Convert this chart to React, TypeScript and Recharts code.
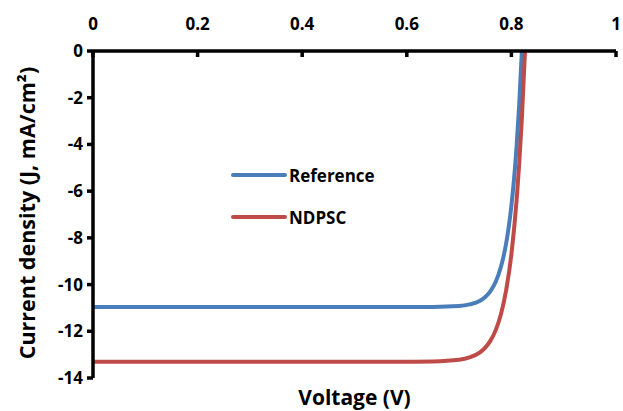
import { LineChart, Line, XAxis, YAxis, Legend, Label } from 'recharts'

// J-V sweep, voltage in V and current density in mA/cm²
const referenceVoltage = [0, 0.1, 0.2, 0.3, 0.4, 0.5, 0.6, 0.65, 0.7, 0.72, 0.74, 0.75, 0.76, 0.77, 0.78, 0.785, 0.79, 0.795, 0.8, 0.805, 0.81, 0.815, 0.82]
const referenceCurrent = [-10.96, -10.96, -10.96, -10.96, -10.96, -10.96, -10.958, -10.955, -10.92, -10.85, -10.69, -10.53, -10.28, -9.88, -9.24, -8.79, -8.23, -7.52, -6.62, -5.49, -4.06, -2.27, 0]

const ndpscVoltage = [0, 0.1, 0.2, 0.3, 0.4, 0.5, 0.6, 0.65, 0.7, 0.72, 0.74, 0.75, 0.76, 0.77, 0.78, 0.79, 0.8, 0.81, 0.815, 0.82, 0.826]
const ndpscCurrent = [-13.3, -13.3, -13.3, -13.3, -13.3, -13.3, -13.3, -13.29, -13.22, -13.12, -12.9, -12.7, -12.4, -11.95, -11.27, -10.24, -8.7, -6.38, -4.81, -2.89, 0]

const voltageTicks = [0, 0.2, 0.4, 0.6, 0.8, 1]
const currentTicks = [0, -2, -4, -6, -8, -10, -12, -14]

const series = [
  { name: 'Reference', color: '#4a7ebb', voltage: referenceVoltage, current: referenceCurrent },
  { name: 'NDPSC', color: '#be4b48', voltage: ndpscVoltage, current: ndpscCurrent },
]

const FONT = '"Open Sans", sans-serif'
const tickStyle = { fill: '#000', fontSize: 17, fontWeight: 700, fontFamily: FONT }
const axisStroke = { stroke: '#000', strokeWidth: 3.5 }

// rotated y title, centred on the plot height
const Y_TITLE_X = 26
const Y_TITLE_Y = 213

function LegendBox() {
  return (
    <div style={{ fontFamily: FONT, fontWeight: 700, fontSize: 17, color: '#000' }}>
      {series.map((s) => (
        <div key={s.name} style={{ display: 'flex', alignItems: 'center', height: 20, marginBottom: 22 }}>
          <svg width={56} height={8}>
            <line x1={2} y1={4} x2={54} y2={4} stroke={s.color} strokeWidth={4} strokeLinecap="round" />
          </svg>
          <span style={{ marginLeft: 2 }}>{s.name}</span>
        </div>
      ))}
    </div>
  )
}

export default function App() {
  const lines = series.map((s) => ({
    ...s,
    data: s.voltage.map((v, i) => ({ v, j: s.current[i] })),
  }))

  return (
    <div style={{ position: 'absolute', left: 0, top: 0 }}>
      <LineChart width={623} height={411} margin={{ top: 0, right: 7, bottom: 0, left: 0 }}>
        <XAxis
          xAxisId="top"
          type="number"
          dataKey="v"
          orientation="top"
          domain={[0, 1]}
          ticks={voltageTicks}
          height={51}
          axisLine={axisStroke}
          tickLine={axisStroke}
          tickSize={-6}
          tickMargin={27}
          tick={tickStyle}
          allowDataOverflow
        />
        <XAxis
          xAxisId="bottom"
          type="number"
          dataKey="v"
          orientation="bottom"
          domain={[0, 1]}
          height={33}
          axisLine={false}
          tickLine={false}
          tick={false}
        >
          <Label
            content={({ viewBox }: any) => (
              <text
                x={viewBox.x + viewBox.width / 2}
                y={viewBox.y + 27}
                textAnchor="middle"
                fontFamily={FONT}
                fontWeight={700}
                fontSize={21}
                fill="#000"
              >
                Voltage (V)
              </text>
            )}
          />
        </XAxis>
        <YAxis
          type="number"
          domain={[-14, 0]}
          ticks={currentTicks}
          width={93}
          axisLine={axisStroke}
          tickLine={axisStroke}
          tickSize={6}
          tickMargin={4}
          tick={tickStyle}
          allowDataOverflow
        >
          <Label
            content={() => (
              <text
                x={Y_TITLE_X}
                y={Y_TITLE_Y}
                transform={`rotate(-90 ${Y_TITLE_X} ${Y_TITLE_Y})`}
                textAnchor="middle"
                dominantBaseline="central"
                fontFamily={FONT}
                fontWeight={700}
                fontSize={21.5}
                fill="#000"
              >
                Current density (J, mA/cm²)
              </text>
            )}
          />
        </YAxis>
        <Legend
          layout="horizontal"
          align="center"
          verticalAlign="middle"
          content={() => <LegendBox />}
          wrapperStyle={{ left: 231, top: 165, width: 'auto' }}
        />
        {lines.map((s) => (
          <Line
            key={s.name}
            xAxisId="top"
            data={s.data}
            dataKey="j"
            name={s.name}
            type="monotone"
            stroke={s.color}
            strokeWidth={4}
            dot={false}
            isAnimationActive={false}
          />
        ))}
      </LineChart>
    </div>
  )
}
